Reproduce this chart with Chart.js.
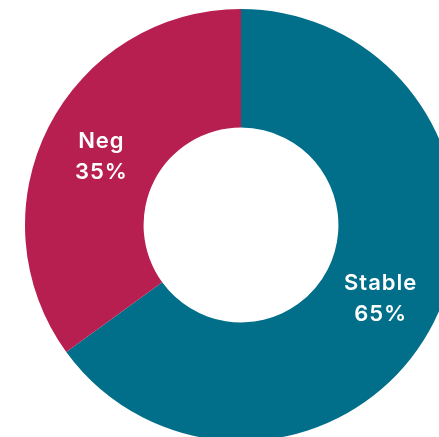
<!DOCTYPE html>
<html><head><meta charset="utf-8">
<script src="https://cdn.jsdelivr.net/npm/chart.js@4/dist/chart.umd.min.js"></script>
<style>
html,body{margin:0;padding:0;background:#fff;overflow:hidden;width:439px;height:437px;}
#wrap{position:absolute;left:-9.5px;top:-25.5px;width:500px;height:500px;}
</style></head><body>
<div id="wrap"><canvas id="c" width="500" height="500"></canvas></div>
<script>
const categories = ["Stable", "Neg"];
const values = [65, 35];
const colors = ["#016f89", "#b71f51"];

const labelPlugin = {
  id: 'sliceLabels',
  afterDatasetsDraw(chart) {
    const ctx = chart.ctx;
    const meta = chart.getDatasetMeta(0);
    const total = values.reduce((a, b) => a + b, 0);
    ctx.save();
    ctx.fillStyle = '#ffffff';
    ctx.font = '600 22px Inter, "Open Sans", sans-serif';
    ctx.letterSpacing = '1px';
    ctx.textAlign = 'center';
    ctx.textBaseline = 'middle';
    meta.data.forEach((arc, i) => {
      const p = arc.tooltipPosition();
      const pct = Math.round(values[i] / total * 100) + '%';
      ctx.fillText(categories[i], p.x, p.y - 12.5);
      ctx.fillText(pct, p.x, p.y + 18.5);
    });
    ctx.restore();
  }
};

new Chart(document.getElementById('c'), {
  type: 'doughnut',
  data: {
    labels: categories,
    datasets: [{ data: values, backgroundColor: colors, borderWidth: 0 }]
  },
  options: {
    responsive: false,
    animation: false,
    radius: 216,
    cutout: '45.1%',
    layout: { padding: 0 },
    plugins: { legend: { display: false }, tooltip: { enabled: false } }
  },
  plugins: [labelPlugin]
});
</script>
</body></html>
